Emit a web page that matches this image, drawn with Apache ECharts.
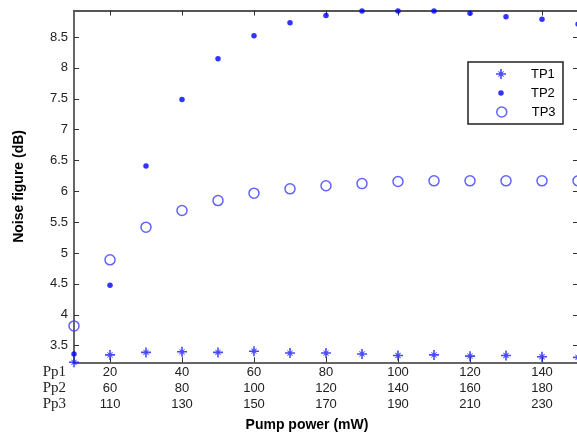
<!DOCTYPE html>
<html>
<head>
<meta charset="utf-8">
<script src="https://cdn.jsdelivr.net/npm/echarts@6/dist/echarts.min.js"></script>
<style>html,body{margin:0;padding:0;background:#fff;}#chart{width:577px;height:435px;}</style>
</head>
<body>
<div id="chart"></div>
<script>
// ---- data ----
const pumpPower = [10, 20, 30, 40, 50, 60, 70, 80, 90, 100, 110, 120, 130, 140, 150];
const tp1 = [3.23, 3.35, 3.39, 3.40, 3.39, 3.41, 3.38, 3.38, 3.365, 3.34, 3.35, 3.33, 3.34, 3.32, 3.31];
const tp2 = [3.365, 4.48, 6.41, 7.49, 8.15, 8.52, 8.73, 8.85, 8.92, 8.92, 8.92, 8.885, 8.83, 8.79, 8.71];
const tp3 = [3.82, 4.89, 5.42, 5.69, 5.85, 5.97, 6.04, 6.09, 6.125, 6.16, 6.17, 6.17, 6.17, 6.17, 6.17];
const seriesNames = ['TP1', 'TP2', 'TP3'];
const pp1Ticks = [20, 40, 60, 80, 100, 120, 140];
const pp2Ticks = [60, 80, 100, 120, 140, 160, 180];
const pp3Ticks = [110, 130, 150, 170, 190, 210, 230];
const rowNames = ['Pp1', 'Pp2', 'Pp3'];
const yTicks = [3.5, 4, 4.5, 5, 5.5, 6, 6.5, 7, 7.5, 8, 8.5];
const xMin = 10, xMax = 150, yMin = 3.23, yMax = 8.93;
const xName = 'Pump power (mW)';
const yName = 'Noise figure (dB)';

// ---- styling ----
const axisColor = '#333';
const labelFont = 'Liberation Sans, Arial, sans-serif';
const starPath = 'path://M8.4 0 L11.6 0 L11.6 20 L8.4 20 Z M0 8.4 L20 8.4 L20 11.6 L0 11.6 Z ' +
  'M5.4 4.2 L15.8 14.6 L14.6 15.8 L4.2 5.4 Z M14.6 4.2 L15.8 5.4 L5.4 15.8 L4.2 14.6 Z';

const chart = echarts.init(document.getElementById('chart'), null, {renderer: 'canvas'});

function numFormatter(v) {
  const i = pp1Ticks.indexOf(v);
  if (i < 0) return '';
  return '{n|' + pp1Ticks[i] + '}\n{n|' + pp2Ticks[i] + '}\n{n|' + pp3Ticks[i] + '}';
}
function rowFormatter() {
  return rowNames.map(function (r) { return '{pp|' + r + '}'; }).join('\n');
}

function pairs(ys) { return pumpPower.map(function (x, i) { return [x, ys[i]]; }); }

// icon centre x = 501, text start x = 531
function legendFor(name, top, h, itemStyle) {
  const left = 501 - h / 2;
  const pad = 531 - (left + h + 5);
  return {
    data: [name], orient: 'vertical', left: left, top: top, padding: 0,
    itemWidth: h, itemHeight: h, selectedMode: false,
    textStyle: {fontFamily: labelFont, fontSize: 13, color: '#000', lineHeight: 16, padding: [0, 0, 0, pad]},
    itemStyle: itemStyle
  };
}

const option = {
  animation: false,
  backgroundColor: '#fff',
  grid: {left: 74, right: -1, top: 10.5, bottom: 72.7, containLabel: false, outerBoundsMode: 'none'},
  graphic: [{
    type: 'rect', z: 3,
    shape: {x: 468, y: 62, width: 95, height: 62},
    style: {fill: '#fff', stroke: '#222', lineWidth: 1.5}
  }],
  legend: [
    legendFor(seriesNames[0], 66, 10, {color: '#1a1aff'}),
    legendFor(seriesNames[1], 85, 5.5, {color: '#0000ff'}),
    legendFor(seriesNames[2], 104, 10, {color: 'rgba(255,255,255,0)', borderColor: '#3b3bff', borderWidth: 1.5})
  ],
  xAxis: [{
    type: 'value', min: xMin, max: xMax, position: 'bottom',
    name: xName, nameLocation: 'middle', nameGap: 56,
    nameTextStyle: {fontFamily: labelFont, fontSize: 14, fontWeight: 'bold', color: '#000', padding: [0, 38, 0, 0]},
    axisLine: {show: true, onZero: false, lineStyle: {color: axisColor, width: 1.5}},
    axisTick: {show: true, inside: true, length: 5, customValues: pp1Ticks, lineStyle: {color: axisColor, width: 1}},
    axisLabel: {
      show: true, margin: 2, customValues: pp1Ticks,
      formatter: numFormatter,
      rich: {n: {fontFamily: labelFont, fontSize: 13, color: '#222', lineHeight: 16}}
    },
    splitLine: {show: false}
  }, {
    type: 'value', min: xMin, max: xMax, position: 'top',
    axisLine: {show: true, onZero: false, lineStyle: {color: '#555', width: 1.8}},
    axisTick: {show: true, inside: true, length: 5, customValues: pp1Ticks, lineStyle: {color: axisColor, width: 1}},
    axisLabel: {show: false},
    splitLine: {show: false}
  }, {
    type: 'value', min: xMin, max: xMax, position: 'bottom', offset: 0,
    axisLine: {show: false}, axisTick: {show: false}, splitLine: {show: false},
    axisLabel: {
      show: true, margin: 2, customValues: [xMin], showMinLabel: true, align: 'right',
      formatter: rowFormatter,
      rich: {pp: {fontFamily: 'Liberation Serif, Times New Roman, serif', fontSize: 15, color: '#222', lineHeight: 16, padding: [0, 8, 0, 0]}}
    }
  }],
  yAxis: [{
    type: 'value', min: yMin, max: yMax, position: 'left',
    name: yName, nameLocation: 'middle', nameGap: 48,
    nameTextStyle: {fontFamily: labelFont, fontSize: 14, fontWeight: 'bold', color: '#000'},
    axisLine: {show: true, onZero: false, lineStyle: {color: axisColor, width: 1.5}},
    axisTick: {show: true, inside: true, length: 5, customValues: yTicks, lineStyle: {color: axisColor, width: 1}},
    axisLabel: {show: true, margin: 6, customValues: yTicks, fontFamily: labelFont, fontSize: 13, color: '#222',
      formatter: function (v) { return String(v); }},
    splitLine: {show: false}
  }, {
    type: 'value', min: yMin, max: yMax, position: 'right',
    axisLine: {show: true, onZero: false, lineStyle: {color: axisColor, width: 1.5}},
    axisTick: {show: true, inside: true, length: 5, customValues: yTicks, lineStyle: {color: axisColor, width: 1}},
    axisLabel: {show: false},
    splitLine: {show: false}
  }],
  series: [{
    name: seriesNames[0], type: 'scatter', xAxisIndex: 0, yAxisIndex: 0, clip: false,
    symbol: starPath, symbolSize: 10, symbolKeepAspect: true,
    itemStyle: {color: '#1a1aff'},
    data: pairs(tp1)
  }, {
    name: seriesNames[1], type: 'scatter', xAxisIndex: 0, yAxisIndex: 0, clip: false,
    symbol: 'circle', symbolSize: 5.5,
    itemStyle: {color: '#0000ff'},
    data: pairs(tp2)
  }, {
    name: seriesNames[2], type: 'scatter', xAxisIndex: 0, yAxisIndex: 0, clip: false,
    symbol: 'circle', symbolSize: 10,
    itemStyle: {color: 'rgba(255,255,255,0)', borderColor: '#3b3bff', borderWidth: 1.5},
    data: pairs(tp3)
  }]
};
chart.setOption(option);
</script>
</body>
</html>
